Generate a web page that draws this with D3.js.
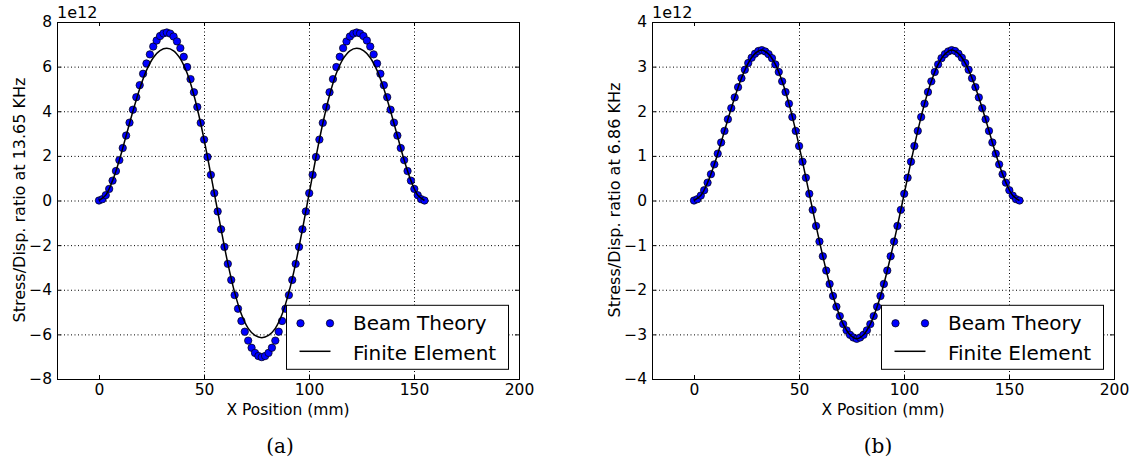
<!DOCTYPE html>
<meta charset="utf-8">
<style>
  body { margin: 0; background: #fff; }
  text { font-family: "DejaVu Sans", sans-serif; }
</style>
<body>
<script src="https://d3js.org/d3.v7.min.js"></script>
<script>
// positions along the beam (mm) for the Beam Theory markers
var xBeam = [0, 1.61, 3.23, 4.84, 6.46, 8.07, 9.69, 11.30, 12.92, 14.53, 16.15, 17.76, 19.38, 20.99, 22.60, 24.22, 25.83, 27.45, 29.06, 30.68, 32.29, 33.91, 35.52, 37.14, 38.75, 40.36, 41.98, 43.59, 45.21, 46.82, 48.44, 50.05, 51.67, 53.28, 54.90, 56.51, 58.13, 59.74, 61.35, 62.97, 64.58, 66.20, 67.81, 69.43, 71.04, 72.66, 74.27, 75.89, 77.50,
  79.11, 80.73, 82.34, 83.96, 85.57, 87.19, 88.80, 90.42, 92.03, 93.65, 95.26, 96.88, 98.49, 100.10, 101.72, 103.33, 104.95, 106.56, 108.18, 109.79, 111.41, 113.02, 114.64, 116.25, 117.86, 119.48, 121.09, 122.71, 124.32, 125.94, 127.55, 129.17, 130.78, 132.40, 134.01, 135.63, 137.24, 138.85, 140.47, 142.08, 143.70, 145.31, 146.93, 148.54, 150.16, 151.77, 153.39, 155.00];

// Beam Theory, 13.65 KHz (x 1e12)
var beamA = [0, 0.06, 0.24, 0.52, 0.89, 1.32, 1.81, 2.35, 2.91, 3.49, 4.07, 4.63, 5.17, 5.68, 6.14, 6.55, 6.90, 7.17, 7.37, 7.49, 7.53, 7.48, 7.35, 7.13, 6.83, 6.44, 5.98, 5.44, 4.85, 4.19, 3.48, 2.73, 1.95, 1.15, 0.33, -0.49, -1.29, -2.08, -2.84, -3.56, -4.24, -4.85, -5.40, -5.88, -6.28, -6.60, -6.83, -6.97, -7.02,
  -6.97, -6.83, -6.60, -6.28, -5.88, -5.40, -4.85, -4.24, -3.56, -2.84, -2.08, -1.29, -0.49, 0.33, 1.15, 1.95, 2.73, 3.48, 4.19, 4.85, 5.44, 5.98, 6.44, 6.83, 7.13, 7.35, 7.48, 7.53, 7.49, 7.37, 7.17, 6.90, 6.55, 6.14, 5.68, 5.17, 4.63, 4.07, 3.49, 2.91, 2.35, 1.81, 1.32, 0.89, 0.52, 0.24, 0.06, 0];

// Beam Theory, 6.86 KHz (x 1e12)
var beamB = [0, 0.03, 0.11, 0.23, 0.40, 0.59, 0.81, 1.05, 1.30, 1.56, 1.82, 2.07, 2.31, 2.54, 2.74, 2.93, 3.08, 3.20, 3.29, 3.35, 3.37, 3.34, 3.28, 3.19, 3.05, 2.88, 2.67, 2.43, 2.17, 1.87, 1.56, 1.22, 0.87, 0.51, 0.15, -0.21, -0.57, -0.92, -1.25, -1.57, -1.87, -2.14, -2.38, -2.59, -2.77, -2.91, -3.01, -3.07, -3.10,
  -3.07, -3.01, -2.91, -2.77, -2.59, -2.38, -2.14, -1.87, -1.57, -1.25, -0.92, -0.57, -0.21, 0.15, 0.51, 0.87, 1.22, 1.56, 1.87, 2.17, 2.43, 2.67, 2.88, 3.05, 3.19, 3.28, 3.34, 3.37, 3.35, 3.29, 3.20, 3.08, 2.93, 2.74, 2.54, 2.31, 2.07, 1.82, 1.56, 1.30, 1.05, 0.81, 0.59, 0.40, 0.23, 0.11, 0.03, 0];

// Finite Element curves
var xFE = [0, 3.23, 6.46, 9.69, 12.92, 16.15, 19.38, 22.60, 25.83, 29.06, 32.29, 35.52, 38.75, 41.98, 45.21, 48.44, 51.67, 54.90, 58.13, 61.35, 64.58, 67.81, 71.04, 74.27, 77.50,
  80.73, 83.96, 87.19, 90.42, 93.65, 96.88, 100.10, 103.33, 106.56, 109.79, 113.02, 116.25, 119.48, 122.71, 125.94, 129.17, 132.40, 135.63, 138.85, 142.08, 145.31, 148.54, 151.77, 155.00];
var feA = [0, 0.24, 0.89, 1.81, 2.90, 4.00, 5.01, 5.83, 6.40, 6.72, 6.82, 6.71, 6.35, 5.70, 4.72, 3.45, 1.95, 0.33, -1.29, -2.82, -4.12, -5.10, -5.73, -6.05, -6.15,
  -6.05, -5.73, -5.10, -4.12, -2.82, -1.29, 0.33, 1.95, 3.45, 4.72, 5.70, 6.35, 6.71, 6.82, 6.72, 6.40, 5.83, 5.01, 4.00, 2.90, 1.81, 0.89, 0.24, 0];
var feB = [0, 0.11, 0.40, 0.81, 1.30, 1.82, 2.31, 2.74, 3.08, 3.29, 3.37, 3.28, 3.05, 2.67, 2.17, 1.56, 0.87, 0.15, -0.57, -1.25, -1.87, -2.38, -2.77, -3.01, -3.10,
  -3.01, -2.77, -2.38, -1.87, -1.25, -0.57, 0.15, 0.87, 1.56, 2.17, 2.67, 3.05, 3.28, 3.37, 3.29, 3.08, 2.74, 2.31, 1.82, 1.30, 0.81, 0.40, 0.11, 0];

var xTicks = [0, 50, 100, 150, 200];
var yTicksA = [-8, -6, -4, -2, 0, 2, 4, 6, 8];
var yTicksB = [-4, -3, -2, -1, 0, 1, 2, 3, 4];

var svg = d3.select("body").append("svg")
  .attr("width", 1135)
  .attr("height", 466);

var width = 462,
  height = 357;

function fmt(d) {
  return d < 0 ? "\u2212" + Math.abs(d) : "" + d;
}

function panel(left, ydom, yTicks, beam, fe, ylabel, labelX, caption, capX) {
  var g = svg.append("g").attr("transform", "translate(" + left + ",22)");
  var x = d3.scaleLinear().domain([-20, 200]).range([0, width]);
  var y = d3.scaleLinear().domain(ydom).range([height, 0]);

  // dotted grid
  var grid = g.append("g").attr("class", "grid");
  grid.append("g")
    .attr("transform", "translate(0," + height + ")")
    .call(d3.axisBottom(x).tickValues(xTicks.slice(1, -1)).tickSize(-height).tickFormat(""));
  grid.append("g")
    .call(d3.axisLeft(y).tickValues(yTicks.slice(1, -1)).tickSize(-width).tickFormat(""));
  grid.selectAll(".domain").remove();
  grid.selectAll("line")
    .attr("stroke", "#000")
    .attr("stroke-width", 1)
    .attr("stroke-dasharray", "1,2.5");

  // beam theory markers
  g.append("g").selectAll("circle")
    .data(xBeam)
    .enter().append("circle")
    .attr("cx", function(d) { return x(d); })
    .attr("cy", function(d, i) { return y(beam[i]); })
    .attr("r", 3.7)
    .attr("fill", "#0000ff")
    .attr("stroke", "#000")
    .attr("stroke-width", 0.7);

  // finite element line
  var line = d3.line()
    .x(function(d) { return x(d); })
    .y(function(d, i) { return y(fe[i]); })
    .curve(d3.curveCatmullRom);
  g.append("path")
    .datum(xFE)
    .attr("d", line)
    .attr("fill", "none")
    .attr("stroke", "#000")
    .attr("stroke-width", 1.5);

  // axes with inward ticks on all four sides
  var ax = g.append("g").attr("class", "axes");
  ax.append("g")
    .attr("transform", "translate(0," + height + ")")
    .call(d3.axisBottom(x).tickValues(xTicks).tickSize(-4).tickPadding(5));
  ax.append("g")
    .call(d3.axisTop(x).tickValues(xTicks).tickSize(-4).tickFormat(""));
  ax.append("g")
    .call(d3.axisLeft(y).tickValues(yTicks).tickSize(-4).tickPadding(5).tickFormat(fmt));
  ax.append("g")
    .attr("transform", "translate(" + width + ",0)")
    .call(d3.axisRight(y).tickValues(yTicks).tickSize(-4).tickFormat(""));
  ax.selectAll("text")
    .attr("fill", "#000")
    .style("font-size", "15.5px")
    .style("font-family", "DejaVu Sans");
  ax.selectAll(".domain").attr("stroke", "#000").attr("stroke-width", 1);
  ax.selectAll(".tick line").attr("stroke", "#000");

  // offset text
  g.append("text")
    .attr("x", 0)
    .attr("y", -4)
    .style("font-size", "16px")
    .text("1e12");

  // axis labels
  g.append("text")
    .attr("x", width / 2)
    .attr("y", height + 36)
    .attr("text-anchor", "middle")
    .style("font-size", "15.5px")
    .text("X Position (mm)");
  svg.append("text")
    .attr("transform", "translate(" + labelX + ",200) rotate(-90)")
    .attr("text-anchor", "middle")
    .style("font-size", "16px")
    .text(ylabel);

  // legend
  var lw = 222, lh = 64;
  var lg = g.append("g")
    .attr("transform", "translate(" + (width - 10.5 - lw) + "," + (height - 9.7 - lh) + ")");
  lg.append("rect")
    .attr("width", lw)
    .attr("height", lh)
    .attr("fill", "#fff")
    .attr("stroke", "#000")
    .attr("stroke-width", 1);
  lg.selectAll("circle")
    .data([14, 43.5])
    .enter().append("circle")
    .attr("cx", function(d) { return d; })
    .attr("cy", 18)
    .attr("r", 3.7)
    .attr("fill", "#0000ff")
    .attr("stroke", "#000")
    .attr("stroke-width", 0.7);
  lg.append("line")
    .attr("x1", 13).attr("x2", 44)
    .attr("y1", 46).attr("y2", 46)
    .attr("stroke", "#000")
    .attr("stroke-width", 1.5);
  lg.append("text")
    .attr("x", 66.5)
    .attr("y", 25)
    .style("font-size", "20px")
    .text("Beam Theory");
  lg.append("text")
    .attr("x", 66.5)
    .attr("y", 55)
    .style("font-size", "20px")
    .text("Finite Element");

  // caption
  svg.append("text")
    .attr("x", capX)
    .attr("y", 453)
    .attr("text-anchor", "middle")
    .style("font-family", "'DejaVu Serif', serif")
    .style("font-size", "20px")
    .text(caption);
}

panel(57, [-8, 8], yTicksA, beamA, feA, "Stress/Disp. ratio at 13.65 KHz", 25, "(a)", 280);
panel(652, [-4, 4], yTicksB, beamB, feB, "Stress/Disp. ratio at 6.86 KHz", 620, "(b)", 878);
</script>
</body>
